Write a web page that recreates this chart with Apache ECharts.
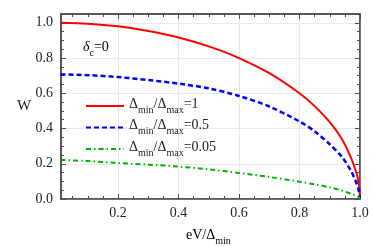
<!DOCTYPE html>
<html><head><meta charset="utf-8">
<script src="https://cdn.jsdelivr.net/npm/echarts@6/dist/echarts.min.js"></script>
<style>html,body{margin:0;padding:0;background:#fff}#c{width:374px;height:247px}</style>
</head><body><div id="c"></div>
<script>
var xValues = [0.01,0.1,0.2,0.3,0.4,0.5,0.6,0.7,0.8,0.85,0.9,0.94,0.97,0.985,0.995,1.0];
var ratio1 = [1.0,0.995,0.98,0.954,0.917,0.866,0.80,0.714,0.60,0.527,0.436,0.341,0.235,0.165,0.10,0.0];
var ratio05 = [0.707,0.703,0.692,0.675,0.655,0.628,0.585,0.525,0.44,0.385,0.31,0.24,0.16,0.105,0.055,0.0];
var ratio005 = [0.222,0.215,0.205,0.195,0.184,0.168,0.148,0.125,0.098,0.083,0.066,0.048,0.03,0.02,0.012,0.0];
var seriesNames = ['r1','r05','r005'];
var legendValues = ['1','0.5','0.05'];
var xMajor = [0.2,0.4,0.6,0.8,1.0];
var xMinor = [0.05,0.1,0.15,0.25,0.3,0.35,0.45,0.5,0.55,0.65,0.7,0.75,0.85,0.9,0.95];
var yMajor = [0,0.2,0.4,0.6,0.8,1.0];
var yMinor = [0.05,0.1,0.15,0.25,0.3,0.35,0.45,0.5,0.55,0.65,0.7,0.75,0.85,0.9,0.95,1.0,1.05];

function pairs(ys){ return xValues.map(function(x,i){ return [x, ys[i]]; }); }
var FONT = 'Liberation Serif';
var AX = '#4d4d4d';
var X0 = 0.0115, X1 = 1.0, Y0 = 0, Y1 = 1.05;

function xAx(pos, ticks, len, labels, split, line){
  return {type:'value', min:X0, max:X1, position:pos,
    axisLine:{show:line, onZero:false, lineStyle:{color:AX,width:1.5}},
    axisTick:{show:true, inside:true, length:len, customValues:ticks, lineStyle:{color:AX,width:1}},
    axisLabel:{show:labels, customValues:xMajor, margin:7, color:'#222', fontFamily:FONT, fontSize:14,
      formatter:function(v){return v.toFixed(1);}},
    splitLine:{show:split, lineStyle:{color:'#e8e8e8',width:1}}};
}
function yAx(pos, ticks, len, labels, split, line){
  return {type:'value', min:Y0, max:Y1, position:pos,
    axisLine:{show:line, onZero:false, lineStyle:{color:AX,width:1.5}},
    axisTick:{show:true, inside:true, length:len, customValues:ticks, lineStyle:{color:AX,width:1}},
    axisLabel:{show:labels, customValues:yMajor, margin:8, color:'#222', fontFamily:FONT, fontSize:14,
      formatter:function(v){return v.toFixed(1);}},
    splitLine:{show:split, lineStyle:{color:'#e8e8e8',width:1}}};
}
var sub = {fontFamily:FONT, fontSize:10, lineHeight:18, verticalAlign:'bottom', color:'#222'};
var main = {fontFamily:FONT, fontSize:14, lineHeight:14, verticalAlign:'top', color:'#222'};

var chart = echarts.init(document.getElementById('c'), null, {renderer:'canvas'});
chart.setOption({
  animation:false,
  grid:{left:61, right:14, top:14, bottom:48, show:true, borderColor:AX, borderWidth:1.5, backgroundColor:'transparent'},
  xAxis:[xAx('bottom', xMajor, 5, true, true, true), xAx('bottom', xMinor, 3, false, false, false),
         xAx('top', xMajor, 5, false, false, true), xAx('top', xMinor, 3, false, false, false)],
  yAxis:[yAx('left', yMajor, 5, true, true, true), yAx('left', yMinor, 3, false, false, false),
         yAx('right', yMajor, 5, false, false, true), yAx('right', yMinor, 3, false, false, false)],
  legend:{orient:'vertical', left:80, top:92, itemWidth:38, itemHeight:12, itemGap:3.5,
    data:seriesNames, itemStyle:{opacity:0},
    formatter:function(n){ var i = seriesNames.indexOf(n); return '{m|Δ}{s|min}{m|/Δ}{s|max}{m|=' + legendValues[i] + '}'; },
    textStyle:{fontFamily:FONT, fontSize:14, color:'#222', rich:{m:main, s:sub}}},
  graphic:[
    {type:'text', left:17, top:99, style:{text:'W', fontFamily:FONT, fontSize:15, fill:'#222'}},
    {type:'text', left:186, top:228, style:{text:'{m|eV/Δ}{s|min}', rich:{m:main, s:sub}}},
    {type:'text', left:83, top:40, style:{text:'{i|δ}{s|c}{m|=0}', rich:{m:main, s:sub,
      i:{fontFamily:FONT, fontStyle:'italic', fontSize:14, lineHeight:14, verticalAlign:'top', color:'#222'}}}}
  ],
  series:[
    {name:'r1', type:'line', data:pairs(ratio1), smooth:0.3, symbol:'none',
      lineStyle:{color:'#ff0000', width:2}, itemStyle:{color:'#ff0000'}},
    {name:'r05', type:'line', data:pairs(ratio05), smooth:0.3, symbol:'none',
      lineStyle:{color:'#0000ff', width:2.5, type:[5,3]}, itemStyle:{color:'#0000ff'}},
    {name:'r005', type:'line', data:pairs(ratio005), smooth:0.3, symbol:'none',
      lineStyle:{color:'#00b300', width:2, type:[5,3,1.5,3]}, itemStyle:{color:'#00b300'}}
  ]
});
</script></body></html>
